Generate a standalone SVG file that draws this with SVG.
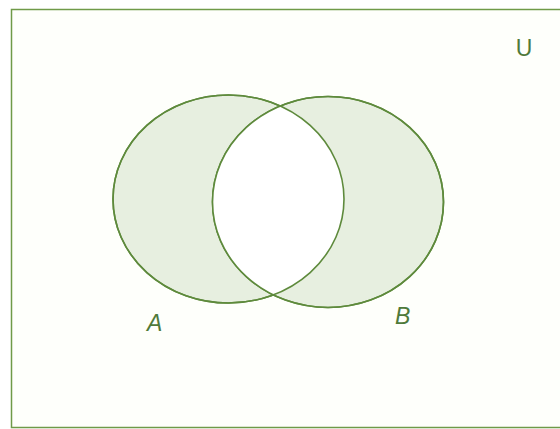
<svg xmlns="http://www.w3.org/2000/svg" width="560" height="429" viewBox="0 0 560 429">
<style>
.set{fill:#e7efe0;stroke:#5e8a3c;stroke-width:1.6}
.lbl{font-family:"Liberation Sans",Arial,sans-serif;font-size:23px;fill:#4f7a3a}
</style>
<defs>
<clipPath id="clipA"><ellipse cx="228.5" cy="199" rx="115.5" ry="104"/></clipPath>
</defs>
<rect x="0" y="0" width="560" height="429" fill="#ffffff"/>
<rect id="U" x="11.5" y="9.5" width="550" height="418" fill="#fefffb" stroke="#6f9a48" stroke-width="1.5"/>
<g id="A">
<ellipse class="set" cx="228.5" cy="199" rx="115.5" ry="104"/>
</g>
<g id="B">
<ellipse class="set" cx="328" cy="202" rx="115.5" ry="105.5"/>
</g>
<g id="intersection">
<ellipse cx="328" cy="202" rx="115.5" ry="105.5" fill="#ffffff" clip-path="url(#clipA)"/>
<ellipse cx="228.5" cy="199" rx="115.5" ry="104" fill="none" stroke="#5e8a3c" stroke-width="1.6"/>
<ellipse cx="328" cy="202" rx="115.5" ry="105.5" fill="none" stroke="#5e8a3c" stroke-width="1.6"/>
</g>
<g id="labels">
<text class="lbl" x="524" y="56" text-anchor="middle">U</text>
<text class="lbl" x="147" y="331" font-style="italic">A</text>
<text class="lbl" x="395" y="324" font-style="italic">B</text>
</g>
</svg>
